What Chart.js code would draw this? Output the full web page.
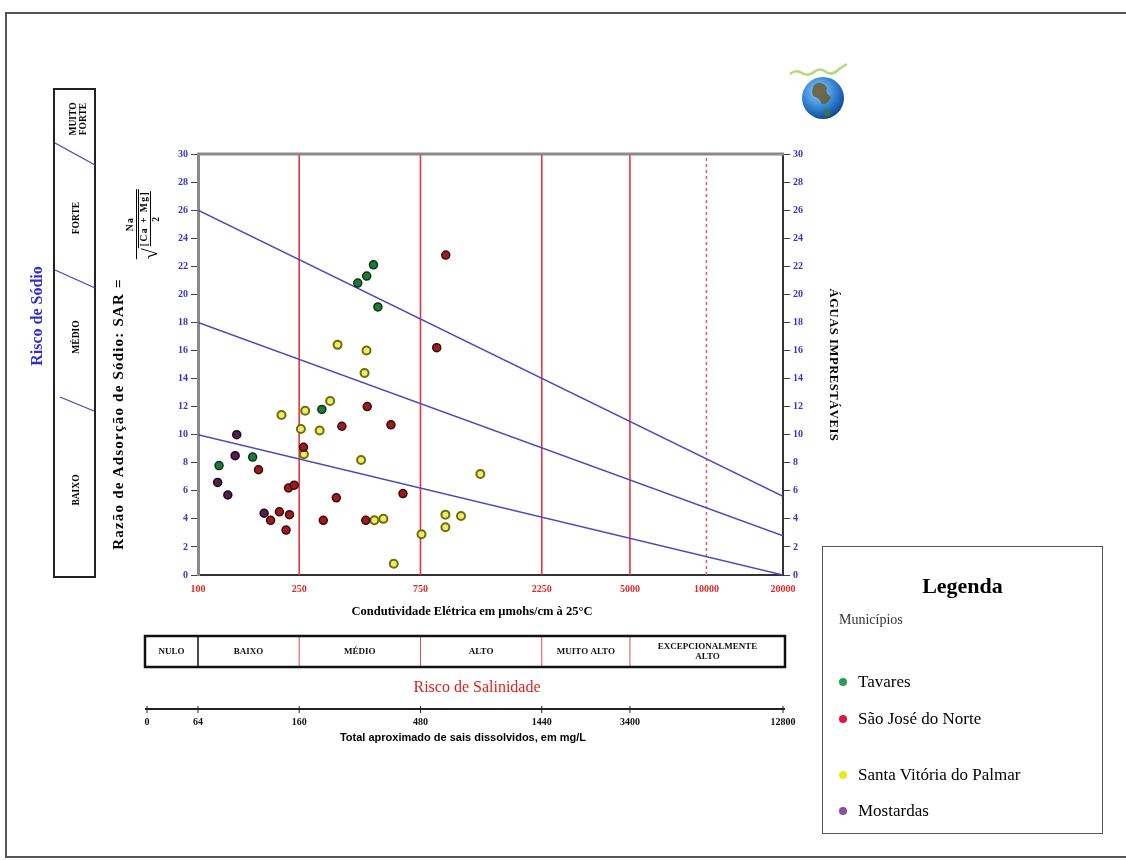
<!DOCTYPE html>
<html lang="pt">
<head>
<meta charset="utf-8">
<title>Classificação das águas para irrigação</title>
<script src="https://cdn.jsdelivr.net/npm/chart.js@4.4.0/dist/chart.umd.min.js"></script>
<style>
  html, body { margin: 0; padding: 0; background: #fff; }
  #page { position: relative; width: 1126px; height: 860px; overflow: hidden; font-family: 'Liberation Serif', 'Times New Roman', serif; }
  #chart { position: absolute; left: 0; top: 0; }
  #frame { position: absolute; left: 5px; top: 12px; width: 1130px; height: 842px; border: 2px solid #555; }
  .abs { position: absolute; white-space: nowrap; }
  .mid { transform: translate(-50%, -50%); }
  .up { transform: translate(-50%, -50%) rotate(-90deg); }
  .down { transform: translate(-50%, -50%) rotate(90deg); }
  .cls { font-size: 9.5px; font-weight: bold; text-align: center; line-height: 10px; }
  .frac { display: inline-flex; flex-direction: column; align-items: center; font-size: 9.5px; font-weight: bold; line-height: 9px; letter-spacing: 1.5px; }
  .frac .bar { align-self: stretch; border-top: 1px solid #000; margin: 1px 0; }
  .frac .den { display: flex; align-items: center; }
  .frac .rad { font-size: 20px; font-weight: normal; line-height: 18px; letter-spacing: 0; }
  .frac .inner { display: inline-flex; flex-direction: column; align-items: center; border-top: 1px solid #000; padding: 1px 2px 0; }
  #legend { position: absolute; left: 822px; top: 546px; width: 279px; height: 286px; border: 1.5px solid #555; }
  #legend .title { position: absolute; left: 0; right: 0; top: 26px; text-align: center; font-size: 22px; font-weight: bold; }
  #legend .sub { position: absolute; left: 16px; top: 65px; font-size: 14px; color: #333; }
  #legend .item { position: absolute; left: 16px; font-size: 17px; display: flex; align-items: center; }
  #legend .dot { width: 8px; height: 8px; border-radius: 50%; margin-right: 11px; }
</style>
</head>
<body>
<div id="page">
  <div id="frame"></div>
  <canvas id="chart" width="1126" height="860"></canvas>

  <svg class="abs" style="left:0;top:0" width="1126" height="860">
    <!-- caixa do risco de sódio -->
    <rect x="54" y="89" width="41" height="488" fill="none" stroke="#222" stroke-width="2"/>
    <line x1="55" y1="143" x2="95" y2="165" stroke="#4848b8" stroke-width="1.3"/>
    <line x1="55" y1="270" x2="95" y2="288" stroke="#4848b8" stroke-width="1.3"/>
    <line x1="60" y1="397" x2="94" y2="411" stroke="#4848b8" stroke-width="1.3"/>
    <!-- logotipo -->
    <defs>
      <radialGradient id="globo" cx="0.4" cy="0.35" r="0.7">
        <stop offset="0" stop-color="#8fd0ff"/>
        <stop offset="0.6" stop-color="#2f7fd0"/>
        <stop offset="1" stop-color="#0d3f8a"/>
      </radialGradient>
    </defs>
    <circle cx="823" cy="98" r="21" fill="url(#globo)"/>
    <path d="M815 84 q8 -3 12 4 q-2 6 4 9 q-3 8 -9 7 q-3 -7 -9 -8 q-2 -7 2 -12z" fill="#6b5a2a" opacity="0.85"/>
    <path d="M826 108 q5 2 4 8 q-5 1 -6 -4z" fill="#3f7a2a" opacity="0.8"/>
    <path d="M790 74 q6 -5 12 -1 q6 4 12 -1 q6 -5 12 0 q6 4 12 -2 q5 -4 9 -6" fill="none" stroke="#9fcf60" stroke-width="2.5" opacity="0.8"/>
  </svg>

  <div class="abs up" style="left:37px;top:316px;font-size:16px;font-weight:bold;color:#3030d0">Risco de Sódio</div>
  <div class="abs up cls" style="left:78px;top:119px">MUITO<br>FORTE</div>
  <div class="abs up cls" style="left:76px;top:218px">FORTE</div>
  <div class="abs up cls" style="left:76px;top:337px">MÉDIO</div>
  <div class="abs up cls" style="left:76px;top:490px">BAIXO</div>

  <div class="abs up" style="left:118px;top:414px;font-size:15px;font-weight:bold;letter-spacing:1.2px">Razão de Adsorção de Sódio: SAR =</div>
  <div class="abs up" style="left:140px;top:224px">
    <span class="frac">
      <span>Na</span>
      <span class="bar"></span>
      <span class="den"><span class="rad">√</span><span class="inner"><span>[Ca + Mg]</span><span class="bar"></span><span>2</span></span></span>
    </span>
  </div>
  <div class="abs down" style="left:833px;top:365px;font-size:12.5px;font-weight:bold;letter-spacing:0.6px">ÁGUAS IMPRESTÁVEIS</div>

  <div class="abs mid" style="left:472px;top:611px;font-size:12.5px;font-weight:bold">Condutividade Elétrica em µmohs/cm à 25°C</div>
  <div class="abs mid" style="left:477px;top:687px;font-size:16px;color:#e02020">Risco de Salinidade</div>
  <div class="abs mid" style="left:463px;top:737px;font-size:11px;font-weight:bold;font-family:'Liberation Sans',sans-serif">Total aproximado de sais dissolvidos, em mg/L</div>

  <div id="legend">
    <div class="title">Legenda</div>
    <div class="sub">Municípios</div>
  </div>
</div>

<script>
// eixo de condutividade elétrica (escala log)
const ecTicks = [100, 250, 750, 2250, 5000, 10000, 20000];
const salinityLimits = [250, 750, 2250, 5000];
const dashedLimit = 10000;

// retas de risco de sódio: SAR em 100 e em 20000 µmhos/cm
const sarLineStart = [10, 18, 26];
const sarLineEnd = [0, 2.8, 5.6];

// classes de salinidade e escala de sais dissolvidos
const salinityBreaks = [100, 250, 750, 2250, 5000];
const salinityClasses = [['NULO'], ['BAIXO'], ['MÉDIO'], ['ALTO'], ['MUITO ALTO'], ['EXCEPCIONALMENTE', 'ALTO']];
const tdsLabels = ['0', '64', '160', '480', '1440', '3400', '12800'];
const tdsAtEC = [null, 100, 250, 750, 2250, 5000, 20000];

// amostras por município (CE, SAR)
const municipios = ['Tavares', 'São José do Norte', 'Santa Vitória do Palmar', 'Mostardas'];

const tavaresEC  = [121, 164, 307, 425, 461, 490, 510];
const tavaresSAR = [7.8, 8.4, 11.8, 20.8, 21.3, 22.1, 19.1];

const saoJoseEC  = [173, 193, 209, 222, 227, 229, 239, 260, 311, 350, 368, 457, 463, 574, 640, 869, 943];
const saoJoseSAR = [7.5, 3.9, 4.5, 3.2, 6.2, 4.3, 6.4, 9.1, 3.9, 5.5, 10.6, 3.9, 12.0, 10.7, 5.8, 16.2, 22.8];

const santaVitoriaEC  = [213, 254, 261, 264, 301, 331, 354, 438, 452, 460, 494, 536, 589, 757, 940, 940, 1083, 1290];
const santaVitoriaSAR = [11.4, 10.4, 8.6, 11.7, 10.3, 12.4, 16.4, 8.2, 14.4, 16.0, 3.9, 4.0, 0.8, 2.9, 4.3, 3.4, 4.2, 7.2];

const mostardasEC  = [119.5, 131, 140, 142, 182];
const mostardasSAR = [6.6, 5.7, 8.5, 10.0, 4.4];

const markerFill   = ['#1f7a34', '#9a1c1e', '#ecec66', '#4f2248'];
const markerBorder = ['#0b3315', '#3d0808', '#6e6e0a', '#22081e'];
const legendColors = ['#2a9d55', '#e0163c', '#e6ec1c', '#8e4d9a'];

function toPoints(xs, ys) {
    return xs.map((x, i) => ({ x: x, y: ys[i] }));
}

const samples = [
    toPoints(tavaresEC, tavaresSAR),
    toPoints(saoJoseEC, saoJoseSAR),
    toPoints(santaVitoriaEC, santaVitoriaSAR),
    toPoints(mostardasEC, mostardasSAR)
];

const datasets = [];

samples.forEach((pts, i) => {
    datasets.push({
        label: municipios[i],
        data: pts,
        order: 0,
        pointRadius: 4,
        pointBorderWidth: i === 2 ? 2 : 1.5,
        pointBackgroundColor: markerFill[i],
        pointBorderColor: markerBorder[i]
    });
});

salinityLimits.forEach(v => {
    datasets.push({
        data: [{ x: v, y: 0 }, { x: v, y: 30 }],
        showLine: true, pointRadius: 0, order: 2,
        borderColor: '#e8343e', borderWidth: 1.6
    });
});

datasets.push({
    data: [{ x: dashedLimit, y: 0 }, { x: dashedLimit, y: 30 }],
    showLine: true, pointRadius: 0, order: 2,
    borderColor: '#e85a6a', borderWidth: 1.5, borderDash: [3, 3]
});

sarLineStart.forEach((y0, i) => {
    datasets.push({
        data: [{ x: 100, y: y0 }, { x: 20000, y: sarLineEnd[i] }],
        showLine: true, pointRadius: 0, order: 1,
        borderColor: '#4a4ac0', borderWidth: 1.5
    });
});

// caixa das classes de salinidade e eixo de sais dissolvidos, alinhados à escala x
const salinityPanel = {
    id: 'salinityPanel',
    afterDraw(chart) {
        const { ctx, chartArea, scales: { x } } = chart;
        const left = chartArea.left - 53;
        const right = chartArea.right + 2;

        ctx.save();
        // borda superior do gráfico
        ctx.strokeStyle = '#8a8a8a';
        ctx.lineWidth = 3;
        ctx.beginPath();
        ctx.moveTo(chartArea.left - 1, chartArea.top);
        ctx.lineTo(chartArea.right + 1, chartArea.top);
        ctx.stroke();

        const top = 636, bottom = 667;
        const edges = [left].concat(salinityBreaks.map(v => x.getPixelForValue(v)), [right]);

        edges.slice(1, -1).forEach((px, i) => {
            ctx.strokeStyle = i === 0 ? '#111' : '#e04a50';
            ctx.lineWidth = i === 0 ? 1.5 : 1;
            ctx.beginPath();
            ctx.moveTo(px, top);
            ctx.lineTo(px, bottom);
            ctx.stroke();
        });
        ctx.strokeStyle = '#111';
        ctx.lineWidth = 2.5;
        ctx.strokeRect(left, top, right - left, bottom - top);

        ctx.fillStyle = '#111';
        ctx.font = 'bold 9px "Liberation Serif"';
        ctx.textAlign = 'center';
        ctx.textBaseline = 'middle';
        salinityClasses.forEach((lines, i) => {
            const cx = (edges[i] + edges[i + 1]) / 2;
            const cy = (top + bottom) / 2 - (lines.length - 1) * 5;
            lines.forEach((t, j) => ctx.fillText(t, cx, cy + j * 10));
        });

        // eixo de total de sais dissolvidos
        const axisY = 709;
        ctx.strokeStyle = '#222';
        ctx.lineWidth = 2;
        ctx.beginPath();
        ctx.moveTo(left, axisY);
        ctx.lineTo(right, axisY);
        ctx.stroke();
        ctx.font = 'bold 10px "Liberation Serif"';
        tdsLabels.forEach((t, i) => {
            const px = tdsAtEC[i] === null ? left + 2 : x.getPixelForValue(tdsAtEC[i]);
            ctx.lineWidth = 1;
            ctx.beginPath();
            ctx.moveTo(px, axisY - 3);
            ctx.lineTo(px, axisY + 4);
            ctx.stroke();
            ctx.fillText(t, px, axisY + 13);
        });
        ctx.restore();
    }
};

const yTickFont = { family: 'Liberation Serif', size: 10, weight: 'bold' };

function sarAxis(position) {
    return {
        type: 'linear',
        position: position,
        min: 0,
        max: 30,
        afterFit: s => { s.width = 40; },
        ticks: { stepSize: 2, color: '#3434c8', font: yTickFont, padding: 3 },
        grid: { drawOnChartArea: false, drawTicks: true, tickLength: 7, color: '#444', lineWidth: 1 },
        border: { display: true, color: position === 'left' ? '#8a8a8a' : '#333', width: position === 'left' ? 3 : 2 }
    };
}

const ctx = document.getElementById('chart').getContext('2d');
new Chart(ctx, {
    type: 'scatter',
    data: { datasets: datasets },
    options: {
        responsive: false,
        animation: false,
        layout: { padding: { left: 158, right: 303, top: 154, bottom: 255 } },
        plugins: { legend: { display: false }, tooltip: { enabled: false } },
        scales: {
            x: {
                type: 'logarithmic',
                min: 100,
                max: 20000,
                afterBuildTicks: s => { s.ticks = ecTicks.map(v => ({ value: v })); },
                afterFit: s => { s.height = 30; },
                ticks: {
                    autoSkip: false, maxRotation: 0, padding: 8,
                    color: '#e02a2a', font: yTickFont,
                    callback: v => String(v)
                },
                grid: { display: false, drawTicks: false },
                border: { display: true, color: '#333', width: 2 }
            },
            y: sarAxis('left'),
            y2: sarAxis('right')
        }
    },
    plugins: [salinityPanel]
});

// legenda dos municípios
const legendBox = document.getElementById('legend');
const legendRows = [137, 174, 230, 266];
municipios.forEach((name, i) => {
    const row = document.createElement('div');
    row.className = 'item';
    row.style.top = (legendRows[i] - 12) + 'px';
    row.innerHTML = '<span class="dot" style="background:' + legendColors[i] + '"></span>' + name;
    legendBox.appendChild(row);
});
</script>
</body>
</html>
